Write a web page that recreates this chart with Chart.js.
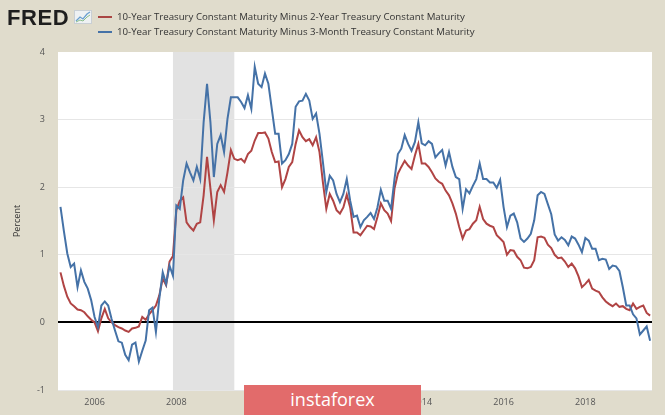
<!DOCTYPE html>
<html><head><meta charset="utf-8">
<script src="https://cdn.jsdelivr.net/npm/chart.js@4.4.1/dist/chart.umd.min.js"></script>
<style>
html,body{margin:0;padding:0;background:#e0dccc;}
#wrap{position:relative;width:665px;height:415px;overflow:hidden;background:#e0dccc;}
#c{position:absolute;left:0;top:0;}
#logo{position:absolute;left:7px;top:5px;font:bold 22px "Liberation Sans",Arial,sans-serif;color:#1e1e1e;letter-spacing:0.6px;}
#icon{position:absolute;left:74px;top:10px;}
.leg{position:absolute;left:117px;font:9.7px "Open Sans",sans-serif;color:#333;line-height:12px;white-space:nowrap;}
.sw{position:absolute;left:98px;width:14px;height:2px;}
#wm{position:absolute;left:244px;top:385px;width:177px;height:30px;background:#e26b6b;color:#fff;font:18px "Open Sans",sans-serif;text-align:center;line-height:28px;}
</style></head>
<body>
<div id="wrap">
<canvas id="c" width="665" height="415"></canvas>
<div id="logo">FRED</div>
<svg id="icon" width="18" height="14" viewBox="0 0 18 14"><rect x="0.5" y="0.5" width="17" height="13" fill="#eef1f3" stroke="#c9cfd4"/><polyline points="2,11 6,7 9,9 13,4 16,2" fill="none" stroke="#6a9fd0" stroke-width="1.3"/><polyline points="2,12 6,10 9,11 13,7 16,5" fill="none" stroke="#8cc08c" stroke-width="1"/></svg>
<div class="sw" style="top:16px;background:#aa4643"></div>
<div class="leg" id="l1" style="top:11px"></div>
<div class="sw" style="top:31px;background:#4572a7"></div>
<div class="leg" id="l2" style="top:26px"></div>
<div id="wm">instaforex</div>
</div>
<script>
const seriesNames = [
  "10-Year Treasury Constant Maturity Minus 2-Year Treasury Constant Maturity",
  "10-Year Treasury Constant Maturity Minus 3-Month Treasury Constant Maturity"
];
const startYear = 2005, startMonth = 3; // monthly observations from Mar 2005
const tickYears = [2006, 2008, 2010, 2012, 2014, 2016, 2018];
const recessionStart = 2007 + 11/12, recessionEnd = 2009 + 5/12;

const spread2y = [
 0.74,0.54,0.38,0.28,0.24,0.19,0.18,0.15,0.09,0.04,0.00,-0.13,0.06,0.20,0.06,0.00,-0.04,-0.07,-0.09,-0.12,-0.14,-0.09,-0.08,-0.06,0.08,0.04,0.12,0.18,0.25,
 0.40,0.65,0.55,0.90,0.98,1.66,1.80,1.85,1.48,1.41,1.36,1.46,1.48,1.88,2.45,1.98,1.51,1.93,2.03,1.93,2.22,2.55,2.42,2.40,2.42,2.37,
 2.49,2.54,2.69,2.80,2.80,2.81,2.72,2.52,2.37,2.38,2.00,2.12,2.30,2.37,2.64,2.84,2.74,2.68,2.71,2.62,2.74,2.52,2.07,1.68,1.90,1.80,1.66,1.61,1.70,1.89,
 1.70,1.33,1.33,1.29,1.36,1.43,1.42,1.38,1.56,1.76,1.66,1.61,1.50,1.98,2.20,2.30,2.39,2.32,2.27,2.47,2.64,2.35,2.35,2.30,2.22,2.13,2.08,
 2.05,1.95,1.88,1.76,1.61,1.41,1.24,1.36,1.38,1.46,1.51,1.71,1.53,1.46,1.43,1.41,1.29,1.24,1.19,1.00,1.07,1.06,0.97,0.92,0.81,0.80,0.82,0.92,
 1.26,1.27,1.25,1.15,1.10,1.00,0.95,0.96,0.90,0.82,0.87,0.80,0.68,0.52,0.57,0.63,0.50,0.47,0.45,0.37,0.31,0.27,0.24,0.28,0.23,0.24,0.20,0.18,0.28,0.20,0.23,0.25,0.14,0.10
];
const spread3m = [
 1.71,1.35,1.02,0.82,0.87,0.52,0.77,0.60,0.50,0.33,0.08,-0.07,0.25,0.31,0.25,0.05,-0.12,-0.28,-0.30,-0.48,-0.56,-0.33,-0.30,-0.58,-0.42,-0.27,0.18,0.22,-0.14,
 0.35,0.74,0.57,0.84,0.69,1.73,1.68,2.10,2.35,2.22,2.10,2.30,2.12,2.96,3.53,2.96,2.15,2.64,2.77,2.52,3.01,3.33,3.33,3.33,3.26,3.17,
 3.36,3.16,3.78,3.53,3.48,3.68,3.53,3.16,2.79,2.79,2.35,2.40,2.49,2.64,3.19,3.27,3.28,3.38,3.28,3.01,3.09,2.79,2.37,1.93,2.17,2.10,1.90,1.78,1.90,2.12,
 1.80,1.56,1.58,1.41,1.51,1.56,1.62,1.53,1.70,1.96,1.80,1.80,1.68,2.12,2.49,2.57,2.77,2.64,2.54,2.67,2.96,2.65,2.62,2.68,2.64,2.44,2.50,
 2.55,2.32,2.52,2.30,2.15,2.12,1.68,1.97,1.91,2.02,2.12,2.35,2.12,2.12,2.07,2.07,1.99,2.11,1.71,1.41,1.58,1.61,1.48,1.24,1.19,1.24,1.31,1.51,
 1.88,1.93,1.90,1.75,1.60,1.30,1.21,1.26,1.22,1.14,1.27,1.24,1.15,1.04,1.25,1.21,1.09,1.09,0.92,0.94,0.93,0.79,0.84,0.83,0.76,0.52,0.25,0.25,0.12,0.06,-0.18,-0.12,-0.06,-0.27
];

document.getElementById('l1').textContent = seriesNames[0];
document.getElementById('l2').textContent = seriesNames[1];

const monthX = i => startYear + (startMonth - 1 + i) / 12;
const toPoints = arr => arr.map((v, i) => ({x: monthX(i), y: v}));

const bgPlugin = {
  id: 'bg',
  beforeDraw(chart) {
    const {ctx, chartArea: a, scales: {x}} = chart;
    ctx.save();
    ctx.fillStyle = '#ffffff';
    ctx.fillRect(a.left, a.top, a.right - a.left, a.bottom - a.top);
    const x0 = x.getPixelForValue(recessionStart), x1 = x.getPixelForValue(recessionEnd);
    ctx.fillStyle = '#e2e2e2';
    ctx.fillRect(x0, a.top, x1 - x0, a.bottom - a.top);
    ctx.restore();
  }
};

new Chart(document.getElementById('c'), {
  type: 'line',
  data: {
    datasets: [
      {label: seriesNames[1], data: toPoints(spread3m), borderColor: '#4572a7', borderWidth: 2, pointRadius: 0, tension: 0, order: 0},
      {label: seriesNames[0], data: toPoints(spread2y), borderColor: '#b04444', borderWidth: 2, pointRadius: 0, tension: 0, order: 1}
    ]
  },
  options: {
    responsive: false,
    animation: false,
    layout: {padding: {top: 52, right: 13, left: 0, bottom: 0}},
    plugins: {legend: {display: false}, tooltip: {enabled: false}},
    scales: {
      x: {
        type: 'linear', min: 2005.106, max: 2019.63,
        afterBuildTicks: s => { s.ticks = tickYears.map(v => ({value: v})); },
        afterFit: s => { s.height = 25; },
        ticks: {callback: v => String(v), font: {size: 9, family: 'Open Sans'}, color: '#555', padding: 7, maxRotation: 0, autoSkip: false},
        grid: {display: false, drawTicks: false},
        border: {display: false}
      },
      y: {
        min: -1, max: 4,
        afterFit: s => { s.width = 58; },
        ticks: {stepSize: 1, font: {size: 9, family: 'Open Sans'}, color: '#555', padding: 13},
        grid: {
          drawTicks: false,
          color: c => c.tick.value === 0 ? '#000000' : (c.tick.value === 4 ? 'rgba(0,0,0,0)' : '#e6e6e6'),
          lineWidth: c => c.tick.value === 0 ? 2 : 1
        },
        border: {display: false},
        title: {display: true, text: 'Percent', font: {size: 9, family: 'Open Sans'}, color: '#333', padding: {top: 12, bottom: 0}}
      }
    }
  },
  plugins: [bgPlugin]
});
</script>
</body></html>
